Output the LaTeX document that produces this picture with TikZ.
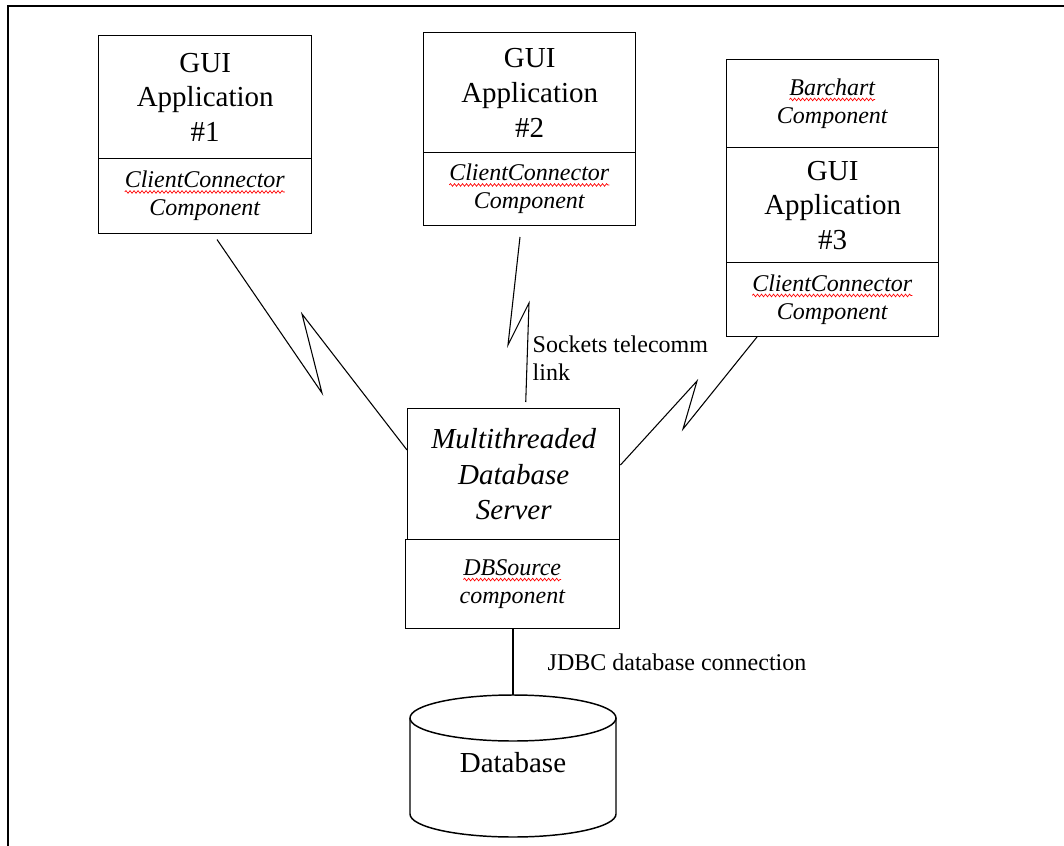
\documentclass[tikz,border=0pt]{standalone}
\usepackage{fontspec}
\setmainfont{Liberation Serif}
\usetikzlibrary{calc,decorations.pathmorphing}
\newlength\spw
\newcommand\spellerr[1]{\settowidth\spw{#1}\leavevmode\rlap{#1}\tikz[baseline=0pt]{\useasboundingbox (0pt,0pt) rectangle (\spw,0pt); \draw[red,line width=0.5pt,decorate,decoration={snake,amplitude=1pt,segment length=3pt}] (0pt,-3.3pt) -- (\spw,-3.3pt);}}
\begin{document}
\begin{tikzpicture}[x=0.75pt,y=-0.75pt,line width=1.1pt,
  comp/.style={draw, inner sep=0pt, align=center, anchor=north west},
  big/.style={font=\fontsize{21.75}{26}\selectfont},
  small/.style={font=\fontsize{18}{21}\selectfont\itshape},
  lbl/.style={font=\fontsize{18}{21}\selectfont, align=left, inner sep=0pt},
  link/.style={line width=0.8pt, line join=miter}]
\useasboundingbox (0,0) rectangle (1064,846);
% frame
\draw[line width=1.3pt] (8,846) -- (8,6) -- (1064,6);
% GUI application 1
\node[comp, big, minimum width=213*0.75pt, minimum height=123*0.75pt] (a1) at (98,35) {GUI\\Application\\\#1};
\node[comp, small, minimum width=213*0.75pt, minimum height=75*0.75pt] (c1) at (98,158) {\spellerr{ClientConnector}\\Component};
% GUI application 2
\node[comp, big, minimum width=212*0.75pt, minimum height=120*0.75pt] (a2) at (423,32) {GUI\\Application\\\#2};
\node[comp, small, minimum width=212*0.75pt, minimum height=73*0.75pt] (c2) at (423,152) {\spellerr{ClientConnector}\\Component};
% GUI application 3
\node[comp, small, minimum width=212*0.75pt, minimum height=88*0.75pt] (b3) at (726,59) {\spellerr{Barchart}\\Component};
\node[comp, big, minimum width=212*0.75pt, minimum height=115*0.75pt] (a3) at (726,147) {GUI\\Application\\\#3};
\node[comp, small, minimum width=212*0.75pt, minimum height=74*0.75pt] (c3) at (726,262) {\spellerr{ClientConnector}\\Component};
% server
\node[comp, big, font=\fontsize{21.75}{26.5}\selectfont\itshape, minimum width=212*0.75pt, minimum height=131*0.75pt] (srv) at (407,408) {Multithreaded\\Database\\Server};
\node[comp, small, minimum width=214*0.75pt, minimum height=89*0.75pt] (dbs) at (405,539) {\spellerr{DBSource}\\component};
% database cylinder
\coordinate (cyltop) at (513,695);
\draw (410,718) -- (410,814) arc[start angle=180,end angle=0,x radius=103,y radius=23] -- (616,718);
\draw (513,718) ellipse[x radius=103, y radius=23];
\node[big] (db) at (513,763) {Database};
\draw (dbs.south -| cyltop) -- (cyltop);
% zigzag links
\coordinate (l1s) at ($(c1.south west)+(119,6)$);
\coordinate (l1a) at (322,393);
\coordinate (l1b) at (302,314);
\draw[link] (l1s) -- (l1a) -- (l1b) -- ($(srv.north west)+(0,42)$);
\coordinate (l2s) at (520,237);
\coordinate (l2a) at (508,345);
\coordinate (l2b) at (529,303);
\draw[link] (l2s) -- (l2a) -- (l2b) -- ($(srv.north)+(12,-6)$);
\coordinate (l3s) at (757,337);
\coordinate (l3a) at (683,429);
\coordinate (l3b) at (697,381);
\draw[link] (l3s) -- (l3a) -- (l3b) -- ($(srv.north east)+(0,57)$);
% labels
\node[lbl, anchor=west] (sock) at (532,358.5) {Sockets telecomm\\link};
\node[lbl, anchor=west] (jdbc) at (547,662) {JDBC database connection};
\end{tikzpicture}
\end{document}
